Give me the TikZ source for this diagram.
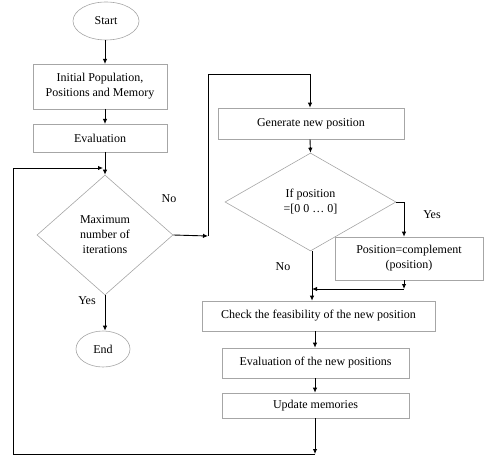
\documentclass[tikz,border=0pt]{standalone}
\usepackage{fontspec}
\setmainfont{Liberation Serif}
\usetikzlibrary{shapes.geometric,arrows.meta,calc}
\begin{document}
\begin{tikzpicture}[x=1pt,y=-1pt,
  every node/.style={font=\fontsize{12}{15}\selectfont, inner sep=0pt, align=center},
  box/.style={draw=black!35, line width=0.6pt, rectangle},
  oval/.style={draw=black!35, line width=0.6pt, ellipse},
  dia/.style={draw=black!35, line width=0.6pt, diamond, aspect=1},
  arr/.style={draw=black, line width=0.9pt, -{Latex[length=5pt,width=4.5pt]}},
  ln/.style={draw=black, line width=0.9pt},
  lab/.style={font=\fontsize{12}{14}\selectfont}]
\useasboundingbox (0,0) rectangle (484,457);
% nodes
\node[oval, minimum width=66, minimum height=38] (start) at (106,21) {Start};
\node[box, minimum width=134, minimum height=45] (init) at (100,86.5) {Initial Population,\\Positions and Memory};
\node[box, minimum width=134, minimum height=28] (eval) at (100,138) {Evaluation};
\node[dia, minimum width=136, minimum height=120] (max) at (105,235) {Maximum\\number of\\iterations};
\node[oval, minimum width=54, minimum height=36] (end) at (103,349) {End};
\node[box, minimum width=186, minimum height=31] (gen) at (311,123.5) {Generate new position};
\node[dia, minimum width=171, minimum height=98] (ifpos) at (310.5,202) {If position\\=[0 0 … 0]};
\node[box, minimum width=148, minimum height=43] (pos) at (409,258.5) {Position=complement\\(position)};
\node[box, minimum width=233, minimum height=30] (check) at (318.5,316) {Check the feasibility of the new position};
\node[box, minimum width=187, minimum height=30] (evnew) at (315.5,363) {Evaluation of the new positions};
\node[box, minimum width=187, minimum height=25] (upd) at (315.5,405.5) {Update memories};
% labels
\node[lab] (no1) at (169,199) {No};
\node[lab] (yes1) at (87,301) {Yes};
\node[lab] (yes2) at (432,215) {Yes};
\node[lab] (no2) at (283,267) {No};
% coordinates
\coordinate (a1) at (208,236);
\coordinate (a2) at (208,74);
\coordinate (a3) at (310,74);
\coordinate (b1) at (404,202);
\coordinate (b2) at (404,289);
\coordinate (b3) at (312,289);
\coordinate (c1) at (315,454);
\coordinate (c2) at (13,454);
\coordinate (c3) at (13,168);
\coordinate (c4) at (103,168);
% connectors
\draw[arr] (start.south -| 105,0) -- (105,64);
\draw[arr] (105,109) -- (105,124);
\draw[arr] (105,152) -- (max.north);
\draw[arr] (max.south) -- (end.north -| max.south);
\draw[arr] (max.east) -- (a1);
\draw[ln] (a1) -- (a2) -- (a3);
\draw[arr] (a3) -- (gen.north -| a3);
\draw[arr] (gen.south -| a3) -- (ifpos.north);
\draw[ln] (ifpos.east) -- (b1);
\draw[arr] (b1) -- (pos.north -| b1);
\draw[arr] (pos.south -| b1) -- (b2);
\draw[arr] (b2) -- (b3);
\draw[arr] (ifpos.south -| b3) -- (check.north -| b3);
\draw[arr] (check.south -| c1) -- (evnew.north -| c1);
\draw[arr] (evnew.south -| c1) -- (upd.north -| c1);
\draw[arr] (upd.south -| c1) -- (c1);
\draw[arr] (c1) -- (c2) -- (c3) -- (c4);
\end{tikzpicture}
\end{document}
